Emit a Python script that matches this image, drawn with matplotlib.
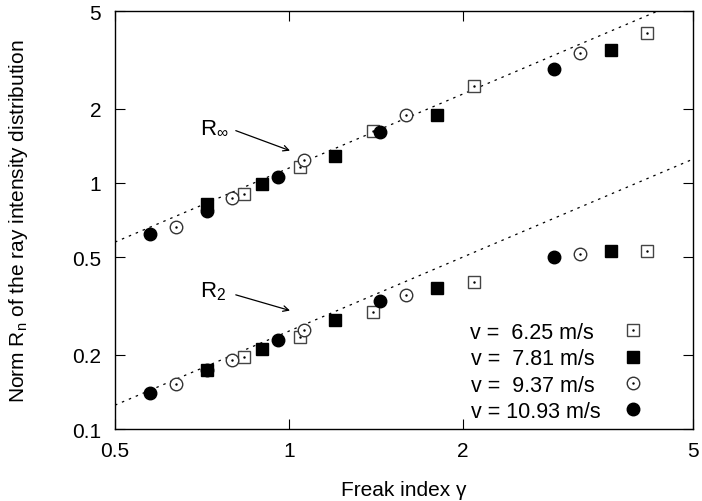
import matplotlib.pyplot as plt
from matplotlib.legend_handler import HandlerTuple
import numpy as np

plt.rcParams['font.family'] = ['Liberation Sans', 'DejaVu Sans']
plt.rcParams['mathtext.fontset'] = 'custom'
plt.rcParams['mathtext.rm'] = 'Liberation Sans'
plt.rcParams['mathtext.it'] = 'Liberation Sans'

# wind speed labels (trailing space keeps the text left-aligned in the legend)
labels = ['v =  6.25 m/s ', 'v =  7.81 m/s ', 'v =  9.37 m/s ', 'v = 10.93 m/s']

# freak index gamma for each wind speed
gamma_625 = [0.837, 1.045, 1.396, 2.09, 4.17]
gamma_781 = [0.720, 0.899, 1.202, 1.801, 3.60]
gamma_937 = [0.638, 0.798, 1.063, 1.594, 3.19]
gamma_1093 = [0.575, 0.720, 0.958, 1.437, 2.877]

# norm R_inf
rinf_625 = [0.902, 1.158, 1.622, 2.47, 4.08]
rinf_781 = [0.821, 0.991, 1.284, 1.89, 3.46]
rinf_937 = [0.662, 0.869, 1.240, 1.896, 3.37]
rinf_1093 = [0.621, 0.772, 1.055, 1.61, 2.907]

# norm R_2
r2_625 = [0.197, 0.236, 0.300, 0.397, 0.531]
r2_781 = [0.173, 0.211, 0.277, 0.373, 0.531]
r2_937 = [0.153, 0.190, 0.253, 0.350, 0.514]
r2_1093 = [0.140, 0.173, 0.231, 0.330, 0.502]

# fitted lines R = c * gamma
fit_coef_inf = 1.15
fit_coef_2 = 0.25

fig = plt.figure(figsize=(7.02, 5.02), dpi=100)
ax = fig.add_axes([115 / 702, 1 - 430 / 502, 578 / 702, 418 / 502])
ax.set_xscale('log')
ax.set_yscale('log')

# dotted fit lines
xf = np.array([0.5, 5.0])
ax.plot(xf, fit_coef_inf * xf, color='black', lw=0.9, ls=(0, (2, 4)), zorder=1)
ax.plot(xf, fit_coef_2 * xf, color='black', lw=0.9, ls=(0, (2, 4)), zorder=1)

gammas = [gamma_625, gamma_781, gamma_937, gamma_1093]
rinfs = [rinf_625, rinf_781, rinf_937, rinf_1093]
r2s = [r2_625, r2_781, r2_937, r2_1093]
styles = [
    dict(marker='s', mfc='white', mec='#444444', ms=8.5, mew=1.0),
    dict(marker='s', mfc='black', mec='black', ms=8.5, mew=1.0),
    dict(marker='o', mfc='white', mec='#333333', ms=9, mew=1.0),
    dict(marker='o', mfc='black', mec='black', ms=9, mew=1.0),
]
open_sym = [True, False, True, False]

handles = []
for i in range(4):
    for ys in (rinfs[i], r2s[i]):
        h, = ax.plot(gammas[i], ys, ls='none', zorder=2 + i, **styles[i])
        if open_sym[i]:
            d, = ax.plot(gammas[i], ys, ls='none', marker='.', ms=1.5, color='black', zorder=2 + i)
    handles.append((h, d) if open_sym[i] else h)

# arrows with labels
ax.annotate('', xy=(1.004, 1.353), xytext=(0.809, 1.632),
            arrowprops=dict(arrowstyle='->', color='black', lw=0.9, shrinkA=0, shrinkB=0))
ax.text(0.701, 1.612, r'R$_\infty$', fontsize=16, ha='left', va='baseline')
ax.annotate('', xy=(1.004, 0.303), xytext=(0.809, 0.351),
            arrowprops=dict(arrowstyle='->', color='black', lw=0.9, shrinkA=0, shrinkB=0))
ax.text(0.701, 0.347, r'R$_2$', fontsize=16, ha='left', va='baseline')

ax.set_xlim(0.5, 5)
ax.set_ylim(0.1, 5)
ax.set_xticks([0.5, 1, 2, 5])
ax.set_xticklabels(['0.5', '1', '2', '5'])
ax.set_yticks([0.1, 0.2, 0.5, 1, 2, 5])
ax.set_yticklabels(['0.1', '0.2', '0.5', '1', '2', '5'])
ax.minorticks_off()
ax.tick_params(which='both', direction='in', top=True, right=True, length=7,
               width=0.8, labelsize=15)
ax.tick_params(axis='x', pad=9)
ax.tick_params(axis='y', pad=10)
for s in ax.spines.values():
    s.set_linewidth(1.0)

ax.set_xlabel('Freak index γ', fontsize=15)
ax.set_ylabel(r'Norm R$_\mathrm{n}$ of the ray intensity distribution', fontsize=15)
ax.xaxis.set_label_coords(0.5, -0.122)
ax.yaxis.set_label_coords(-0.147, 0.5)

leg = ax.legend(handles, labels, loc='lower right', bbox_to_anchor=(0.915, 0.017),
                frameon=False, markerfirst=False, fontsize=15.5, handlelength=1.0,
                handletextpad=1.03, labelspacing=0.25, borderaxespad=0, borderpad=0,
                handler_map={tuple: HandlerTuple(ndivide=1)})

fig.savefig('out.png', dpi=100)
